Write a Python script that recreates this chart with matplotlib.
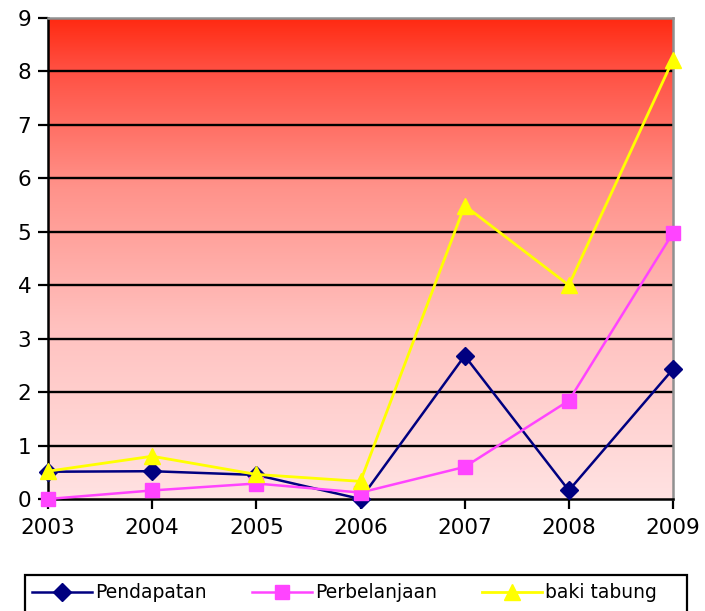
import numpy as np
import matplotlib
matplotlib.use("Agg")
import matplotlib.pyplot as plt
from matplotlib.colors import LinearSegmentedColormap
from matplotlib.patches import Rectangle

years = [2003, 2004, 2005, 2006, 2007, 2008, 2009]
pendapatan = [0.51, 0.52, 0.45, 0.0, 2.68, 0.16, 2.43]
perbelanjaan = [0.0, 0.16, 0.29, 0.12, 0.60, 1.84, 4.98]
baki_tabung = [0.52, 0.80, 0.46, 0.33, 5.49, 4.00, 8.22]
yticks = list(range(0, 10))

fig = plt.figure(figsize=(7.05, 6.11), dpi=100)
W, H = 705, 611
ax = fig.add_axes([48 / W, 1 - 499 / H, (673 - 48) / W, (499 - 18) / H])

# gradient background
cmap = LinearSegmentedColormap.from_list(
    "bg",
    [(0.0, "#ffe2e2"), (0.35, "#ffc2c0"), (0.65, "#ff928a"),
     (0.9, "#ff4e40"), (1.0, "#ff2a12")])
grad = np.linspace(0, 1, 256).reshape(-1, 1)
ax.imshow(grad, aspect="auto", cmap=cmap, origin="lower",
          extent=[2003, 2009, 0, 9], zorder=0)

ax.set_xlim(2003, 2009)
ax.set_ylim(0, 9)
for yv in yticks[1:]:
    ax.axhline(yv, color="black", lw=1.7, zorder=1)

l1, = ax.plot(years, pendapatan, color="#000080", lw=1.8, marker="D",
              markersize=9, label="Pendapatan", zorder=3, clip_on=False)
l2, = ax.plot(years, perbelanjaan, color="#ff44ff", lw=1.8, marker="s",
              markersize=10.5, label="Perbelanjaan", zorder=3, clip_on=False)
l3, = ax.plot(years, baki_tabung, color="#ffff00", lw=2.0, marker="^",
              markersize=11.5, label="baki tabung", zorder=4, clip_on=False)

ax.set_xticks(years)
ax.set_xticklabels([str(y) for y in years])
ax.set_yticks(yticks)
ax.tick_params(axis="both", direction="out", length=7, width=1.6,
               labelsize=15.5, colors="black")
ax.tick_params(axis="x", pad=7)
ax.tick_params(axis="y", pad=5)
for s in ["left", "bottom"]:
    ax.spines[s].set_color("black")
    ax.spines[s].set_linewidth(1.8)
for s in ["top", "right"]:
    ax.spines[s].set_color("#909090")
    ax.spines[s].set_linewidth(1.8)

# legend frame (extends past the bottom edge as in the reference)
fig.patches.append(Rectangle((25 / W, -0.05), 662 / W, (611 - 575) / H + 0.05,
                             transform=fig.transFigure, fill=True,
                             facecolor="white", edgecolor="black", lw=1.6,
                             clip_on=False))
leg = fig.legend(handles=[l1, l2, l3], loc="center left", ncol=3,
                 bbox_to_anchor=(32 / W, 1 - 593 / H, 625 / W, 0),
                 mode="expand", frameon=False, fontsize=13.5,
                 handlelength=3.2, handletextpad=0.15, borderpad=0.0,
                 borderaxespad=0)

fig.savefig("out.png", dpi=100)
